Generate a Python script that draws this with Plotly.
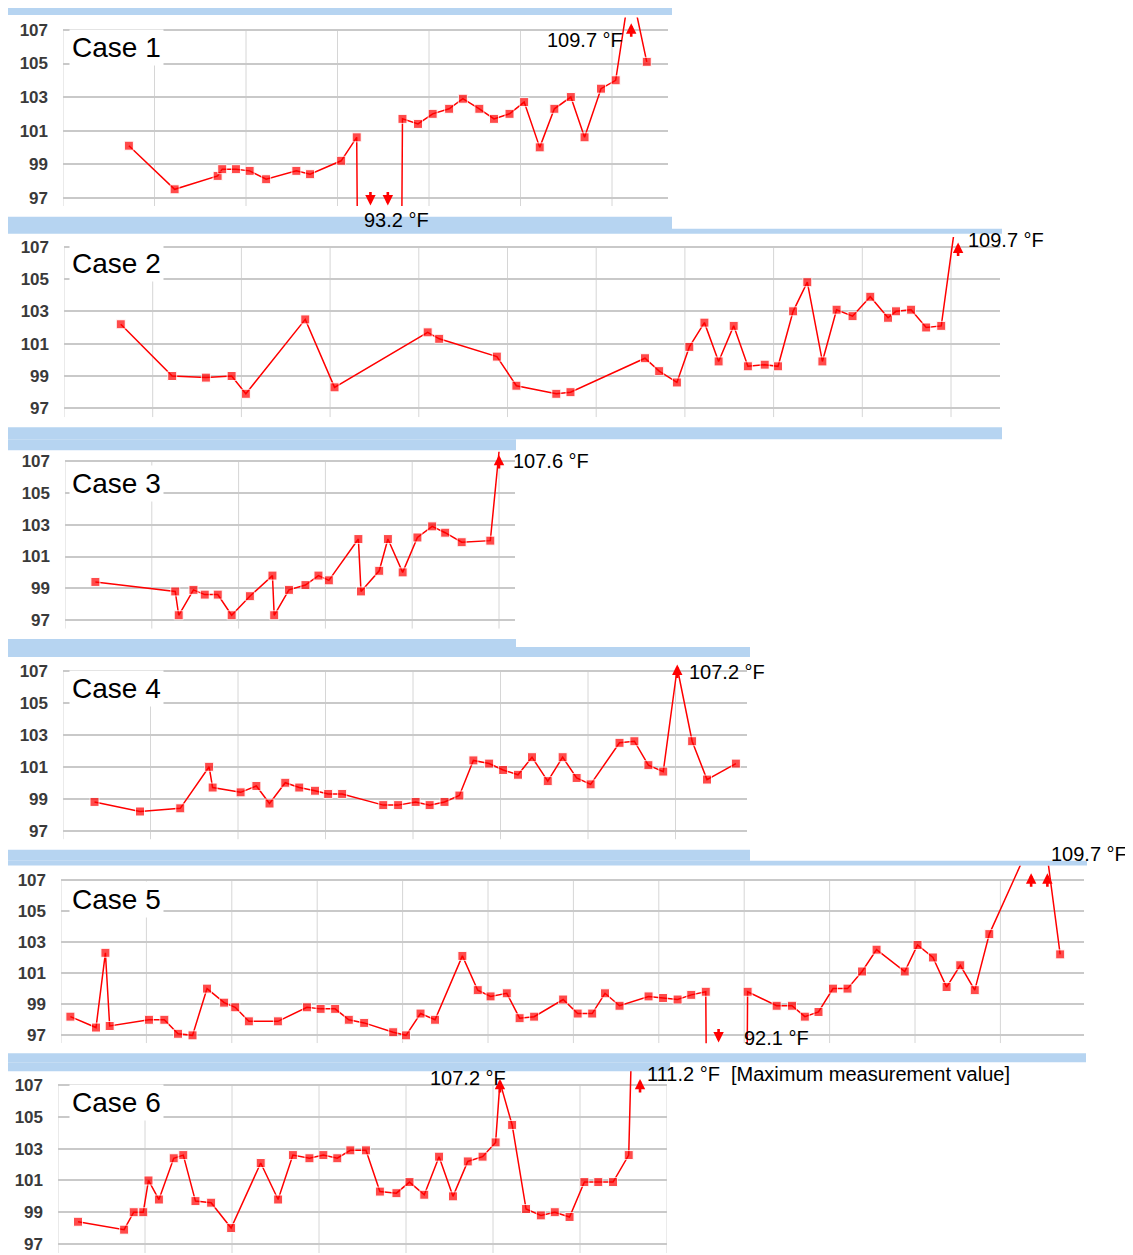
import plotly.graph_objects as go

OFF = 8                 # page body margin of the exported html
W, H = 1133 - OFF, 1255 - OFF

# ---------------- data (x = time in grid units, y = body temperature °F) ----------------
case1_x = [0.72, 1.22, 1.69, 1.74, 1.89, 2.04, 2.22, 2.55, 2.70, 3.04, 3.21,
           3.22, 3.36, 3.55, 3.70,
           3.71, 3.88, 4.04, 4.22, 4.37, 4.55, 4.71, 4.88, 5.04, 5.21, 5.37, 5.55, 5.70, 5.88, 6.04,
           6.20, 6.38]
case1_y = [100.1, 97.5, 98.3, 98.7, 98.7, 98.6, 98.1, 98.6, 98.4, 99.2, 100.6,
           93.2, 93.2, 93.2, 93.2,
           101.7, 101.4, 102.0, 102.3, 102.9, 102.3, 101.7, 102.0, 102.7, 100.0, 102.3, 103.0, 100.6, 103.5, 104.0,
           109.7, 105.1]

case2_x = [0.64, 1.22, 1.60, 1.89, 2.05, 2.72, 3.05, 4.10, 4.23, 4.88, 5.10, 5.55, 5.71, 6.55, 6.71,
           6.91, 7.05, 7.22, 7.38, 7.55, 7.71, 7.90, 8.05, 8.22, 8.38, 8.55, 8.71, 8.89, 9.09, 9.29,
           9.38, 9.55, 9.72, 9.89, 10.08]
case2_y = [102.2, 99.0, 98.9, 99.0, 97.9, 102.5, 98.3, 101.7, 101.3, 100.2, 98.4, 97.9, 98.0, 100.1, 99.3,
           98.6, 100.8, 102.3, 99.9, 102.1, 99.6, 99.7, 99.6, 103.0, 104.8, 99.9, 103.1, 102.7, 103.9, 102.6,
           103.0, 103.1, 102.0, 102.1, 109.7]

case3_x = [0.35, 1.27, 1.31, 1.48, 1.61, 1.76, 1.92, 2.13, 2.39, 2.41, 2.58, 2.77, 2.92, 3.04, 3.38,
           3.41, 3.62, 3.72, 3.89, 4.06, 4.23, 4.38, 4.57, 4.90, 5.00]
case3_y = [99.4, 98.8, 97.3, 98.9, 98.6, 98.6, 97.3, 98.5, 99.8, 97.3, 98.9, 99.2, 99.8, 99.5, 102.1,
           98.8, 100.1, 102.1, 100.0, 102.2, 102.9, 102.5, 101.9, 102.0, 107.6]

case4_x = [0.36, 0.88, 1.34, 1.67, 1.71, 2.03, 2.21, 2.36, 2.54, 2.70, 2.88, 3.03, 3.19, 3.66, 3.83,
           4.03, 4.19, 4.36, 4.53, 4.69, 4.87, 5.03, 5.20, 5.36, 5.54, 5.71, 5.87, 6.03, 6.36, 6.53,
           6.69, 6.86, 7.02, 7.19, 7.36, 7.69]
case4_y = [98.8, 98.2, 98.4, 101.0, 99.7, 99.4, 99.8, 98.7, 100.0, 99.7, 99.5, 99.3, 99.3, 98.6, 98.6,
           98.8, 98.6, 98.8, 99.2, 101.4, 101.2, 100.8, 100.5, 101.6, 100.1, 101.6, 100.3, 99.9, 102.5, 102.6,
           101.1, 100.7, 107.2, 102.6, 100.2, 101.2]

case5_x = [0.11, 0.41, 0.52, 0.57, 1.03, 1.21, 1.37, 1.54, 1.71, 1.91, 2.04, 2.20, 2.54, 2.88, 3.04,
           3.21, 3.37, 3.55, 3.89, 4.04, 4.21, 4.38, 4.70, 4.88, 5.03, 5.22, 5.37, 5.54, 5.88, 6.05,
           6.22, 6.37, 6.54, 6.88, 7.05, 7.22, 7.38, 7.55, 7.56, 7.70, 8.03, 8.04, 8.38, 8.56, 8.71,
           8.87, 9.04, 9.21, 9.38, 9.55, 9.88, 10.03, 10.21, 10.37, 10.53, 10.70, 10.87, 11.38, 11.52, 11.70]
case5_y = [98.2, 97.5, 102.3, 97.6, 98.0, 98.0, 97.1, 97.0, 100.0, 99.1, 98.8, 97.9, 97.9, 98.8, 98.7,
           98.7, 98.0, 97.8, 97.2, 97.0, 98.4, 98.0, 102.1, 99.9, 99.5, 99.7, 98.1, 98.2, 99.3, 98.4,
           98.4, 99.7, 98.9, 99.5, 99.4, 99.3, 99.6, 99.8, 92.1, 92.1, 92.1, 99.8, 98.9, 98.9, 98.2,
           98.5, 100.0, 100.0, 101.1, 102.5, 101.1, 102.8, 102.0, 100.1, 101.5, 99.9, 103.5, 109.7, 109.7, 102.2]

case6_x = [0.23, 0.76, 0.87, 0.98, 1.04, 1.16, 1.33, 1.44, 1.58, 1.76, 1.99, 2.33, 2.53, 2.70, 2.89,
           3.05, 3.21, 3.36, 3.54, 3.70, 3.89, 4.04, 4.21, 4.38, 4.54, 4.71, 4.88, 5.03, 5.08, 5.22,
           5.38, 5.55, 5.71, 5.88, 6.05, 6.21, 6.38, 6.56, 6.60]
case6_y = [98.4, 97.9, 99.0, 99.0, 101.0, 99.8, 102.4, 102.6, 99.7, 99.6, 98.0, 102.1, 99.8, 102.6, 102.4,
           102.6, 102.4, 102.9, 102.9, 100.3, 100.2, 100.9, 100.1, 102.5, 100.0, 102.2, 102.5, 103.4, 107.2, 104.5,
           99.2, 98.8, 99.0, 98.7, 100.9, 100.9, 100.9, 102.6, 111.2]

case_names = ["Case 1", "Case 2", "Case 3", "Case 4", "Case 5", "Case 6"]
y_ticks = [97, 99, 101, 103, 105, 107]

# arrows marking off-scale readings: (case index, x, direction)
arrows = [(0, 6.21, "up"), (0, 3.36, "down"), (0, 3.55, "down"),
          (1, 10.08, "up"), (2, 5.00, "up"), (3, 7.02, "up"),
          (4, 11.36, "up"), (4, 11.55, "up"), (4, 7.70, "down"),
          (5, 5.08, "up"), (5, 6.69, "up")]

# value labels: (text, px_x, px_y, anchor)
labels = [("109.7 °F", 625, 40, "right"), ("93.2 °F", 362, 220, "left"),
          ("109.7 °F", 966, 240, "left"), ("107.6 °F", 511, 462, "left"),
          ("107.2 °F", 687, 673, "left"), ("109.7 °F", 1049, 855, "left"),
          ("92.1 °F", 742, 1040, "left"), ("107.2 °F", 508, 1080, "right"),
          ("111.2 °F  [Maximum measurement value]", 645, 1076, "left")]

# ---------------- layout geometry (reference pixels) ----------------
# (y pixel of 107 line, y pixel of 97 line, ymin, ymax, left px, px per x unit, x max)
panels = [(30, 198, 96.5, 107.75, 63, 91.5, 6.61),
          (247, 409, 96.45, 107.6, 64, 88.7, 10.55),
          (462, 621, 96.45, 107.8, 65, 86.8, 5.18),
          (672, 832, 96.45, 107.75, 63, 87.5, 7.82),
          (881, 1037, 96.5, 107.9, 61, 85.4, 11.98),
          (1087, 1246, 96.43, 107.9, 58, 87.0, 7.0)]
case_label_y = [48, 264, 484, 690, 901, 1104]

bands = [(8, 672, 8, 15), (8, 672, 217, 230), (8, 1002, 229, 234),
         (8, 1002, 428, 440), (8, 516, 440, 451), (8, 516, 640, 648),
         (8, 750, 648, 658), (8, 750, 851, 862), (8, 1087, 862, 867),
         (8, 1086, 1055, 1064), (8, 670, 1064, 1073)]

BAND = "#b6d4f1"
RED = "#ff0000"
FONT = "Liberation Sans, Arial, sans-serif"

xs = [case1_x, case2_x, case3_x, case4_x, case5_x, case6_x]
ys = [case1_y, case2_y, case3_y, case4_y, case5_y, case6_y]

fig = go.Figure()
shapes = []
annotations = []


def fx(px):
    return (px - OFF) / W


def fy(py):
    return 1 - (py - OFF) / H


for i, (p107, p97, ymin, ymax, left, sp, xmax) in enumerate(panels):
    n = "" if i == 0 else str(i + 1)
    ppu = (p97 - p107) / 10.0
    top = p107 - (ymax - 107) * ppu
    bottom = p97 + (97 - ymin) * ppu
    right = left + xmax * sp
    xd = [max(fx(left), 0), min(fx(right), 1)]
    yd = [max(fy(bottom), 0), min(fy(top), 1)]

    sizes = [0 if (v > 107 or v < ymin) else 9 for v in ys[i]]
    fig.add_trace(go.Scatter(
        x=xs[i], y=ys[i], mode="lines+markers", xaxis="x" + n, yaxis="y" + n,
        line=dict(color=RED, width=1.5),
        marker=dict(symbol="square", size=sizes, color=RED),
        hoverinfo="skip", cliponaxis=True))

    fig.layout["xaxis" + n] = dict(domain=xd, range=[0, xmax], anchor="y" + n,
                                   showgrid=False, zeroline=False, showticklabels=False,
                                   showline=False, ticks="")
    fig.layout["yaxis" + n] = dict(domain=yd, range=[ymin, ymax], anchor="x" + n,
                                   tickvals=y_ticks, showgrid=True, gridcolor="#c9c9c9",
                                   gridwidth=2, zeroline=False, showline=False, ticks="",
                                   ticklabelstandoff=14,
                                   tickfont=dict(family=FONT, size=17, color="#3a3a3a",
                                                 weight="bold"))
    # vertical grid lines from the 107 line downwards
    k = 0
    while k <= xmax + 1e-9:
        shapes.append(dict(type="line", xref="x" + n, yref="y" + n, x0=k, x1=k,
                           y0=ymin, y1=107, line=dict(color="#d6d6d6", width=1),
                           layer="below"))
        k += 1

    annotations.append(dict(text=case_names[i], xref="paper", yref="paper",
                            x=fx(69), y=fy(case_label_y[i]),
                            xanchor="left", yanchor="middle", showarrow=False,
                            bgcolor="white", borderpad=2,
                            font=dict(family=FONT, size=28, color="black")))

for (ci, ax_x, d) in arrows:
    n = "" if ci == 0 else str(ci + 1)
    p107, p97, ymin, ymax = panels[ci][:4]
    head = min(ymax - 0.35, 107.4) if d == "up" else ymin + 0.04
    annotations.append(dict(text="", xref="x" + n, yref="y" + n, x=ax_x, y=head,
                            ax=0, ay=15 if d == "up" else -15, showarrow=True,
                            arrowhead=2, arrowsize=0.8, arrowwidth=2.6, arrowcolor=RED))

for (t, lx, ly, anc) in labels:
    annotations.append(dict(text=t, xref="paper", yref="paper", x=fx(lx), y=fy(ly),
                            xanchor=anc, yanchor="middle", showarrow=False,
                            font=dict(family=FONT, size=20, color="black")))

for (x0, x1, y0, y1) in bands:
    shapes.append(dict(type="rect", xref="paper", yref="paper",
                       x0=max(fx(x0), 0), x1=min(fx(x1), 1),
                       y0=fy(y1), y1=min(fy(y0), 1),
                       fillcolor=BAND, line=dict(width=0), layer="above"))

fig.update_layout(width=W, height=H, margin=dict(l=0, r=0, t=0, b=0),
                  paper_bgcolor="white", plot_bgcolor="white", showlegend=False,
                  shapes=shapes, annotations=annotations)

fig.write_html("out.html")
